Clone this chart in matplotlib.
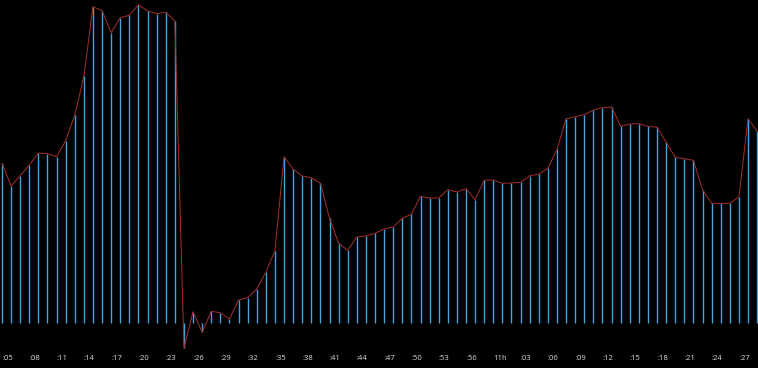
import matplotlib
matplotlib.use("Agg")
import matplotlib.pyplot as plt
import numpy as np

# One value per minute, starting at :05
values = [
    159.4, 136.7, 147.0, 157.7, 169.7, 169.0, 166.0, 182.0, 207.7, 246.7,
    316.0, 312.0, 290.0, 305.0, 307.4, 318.0, 311.7, 309.0, 310.4, 302.0,
    -25.6, 11.0, -9.6, 11.4, 10.0, 3.7, 22.7, 25.0, 33.7, 50.4,
    72.0, 166.0, 153.4, 146.7, 145.0, 139.4, 104.4, 79.4, 72.4, 85.7,
    86.7, 89.4, 93.7, 95.7, 104.4, 108.4, 126.4, 124.7, 124.7, 133.0,
    130.7, 134.0, 123.0, 142.4, 142.7, 139.4, 139.7, 140.4, 147.0, 148.4,
    154.4, 173.4, 204.0, 206.0, 208.0, 212.7, 215.0, 215.7, 196.4, 198.7,
    199.0, 196.4, 195.4, 180.4, 165.4, 164.0, 162.4, 132.7, 119.4, 119.4,
    119.4, 126.0, 204.0, 191.4,
]
tick_labels = [":05", ":08", ":11", ":14", ":17", ":20", ":23", ":26", ":29",
               ":32", ":35", ":38", ":41", ":44", ":47", ":50", ":53", ":56",
               "11h", ":03", ":06", ":09", ":12", ":15", ":18", ":21", ":24", ":27"]
tick_positions = list(range(0, 84, 3))

x = np.arange(len(values))

fig = plt.figure(figsize=(7.58, 3.68), dpi=100, facecolor="black")
ax = fig.add_axes([0, 0, 1, 1], facecolor="black")
ax.vlines(x, 0, values, colors="#45a0e0", linewidth=1.0)
ax.plot(x, values, color="#a3302a", linewidth=0.7)

ax.set_xlim(-2 / 9.098, 756 / 9.098)
ax.set_ylim(322.7 - 368, 322.7)
ax.axis("off")

for pos, lab in zip(tick_positions, tick_labels):
    ax.text(pos, -35.8, lab, ha="left", va="center", fontsize=5.5,
            color="#dddddd", family="Open Sans")

fig.savefig("out.png", dpi=100, facecolor="black")
